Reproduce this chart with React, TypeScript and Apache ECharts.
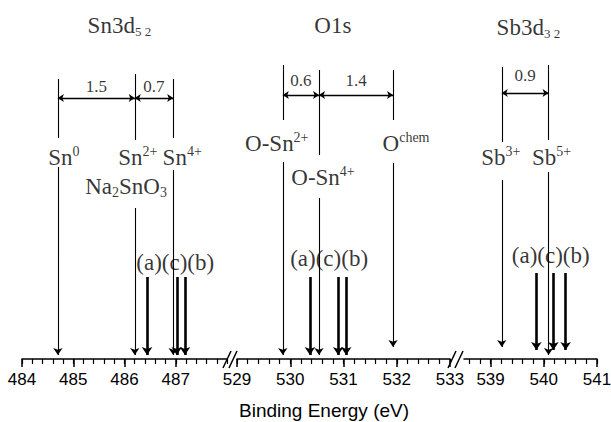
import React, { useEffect, useRef } from "react";
import * as echarts from "echarts";

const SERIF = '"Liberation Serif", "Times New Roman", serif';
const SANS = '"Liberation Sans", Arial, sans-serif';
const INK = "#000000";

// ---- tick labels of the three axis segments (eV) ----
const snTicks = [484, 485, 486, 487];
const oTicks = [529, 530, 531, 532, 533];
const sbTicks = [539, 540, 541];

// ---- reference binding energies (eV) ----
const snRefLabels = ["{m|Sn}{sup|0}", "{m|Sn}{sup|2+}", "{m|Sn}{sup|4+}"];
const snRefEnergy = [484.7, 486.2, 486.95];
const oRefLabels = ["{m|O-Sn}{sup|2+}", "{m|O-Sn}{sup|4+}", "{m|O}{sup|chem}"];
const oRefEnergy = [529.86, 530.54, 531.93];
const sbRefLabels = ["{m|Sb}{sup|3+}", "{m|Sb}{sup|5+}"];
const sbRefEnergy = [539.21, 540.09];

// ---- samples (a), (c), (b) ----
const sampleText = "(a)(c)(b)";
const snSampleEnergy = [486.44, 487.02, 487.18];
const oSampleEnergy = [530.37, 530.9, 531.05];
const sbSampleEnergy = [539.86, 540.18, 540.41];

// ---- chemical shifts between neighbouring references ----
const snShifts = ["1.5", "0.7"];
const oShifts = ["0.6", "1.4"];
const sbShifts = ["0.9"];

// ---- titles ----
const snTitle = "{t|Sn3d}{tsub|5 2}";
const oTitle = "{t|O1s}";
const sbTitle = "{t|Sb3d}{tsub|3 2}";

// layout (heights above axis in the hidden y scale, px-like)
const AXIS_Y = 359;
const segments = [
  {
    min: 484, max: 488, left: 22, width: 205, ticks: snTicks,
    title: snTitle, titleE: 485.9, titleH: 334,
    refE: snRefEnergy, refLabels: snRefLabels,
    refDx: [6, 3, 9], refLabelH: [202, 202, 202],
    refUpper: [[280, 221], [285, 219], [280, 221]],
    refLower: [[192, 4], [151, 4], [189, 4]],
    extra: [{ e: 486.03, h: 173, text: "{m|Na}{sub|2}{m|SnO}{sub|3}", dx: 0 }],
    dimH: 261, dimLabelH: 273, shifts: snShifts,
    sampleE: snSampleEnergy, sampleTop: 82, sampleBottom: 4,
    sampleLabelE: 486.99, sampleLabelH: 97,
  },
  {
    min: 529, max: 533, left: 237, width: 213, ticks: oTicks,
    title: oTitle, titleE: 530.8, titleH: 334,
    refE: oRefEnergy, refLabels: oRefLabels,
    refDx: [-6, 4, 13], refLabelH: [216, 182, 216],
    refUpper: [[294, 239], [289, 204], [289, 239]],
    refLower: [[197, 4], [161, 4], [196, 12]],
    extra: [],
    dimH: 264, dimLabelH: 279, shifts: oShifts,
    sampleE: oSampleEnergy, sampleTop: 82, sampleBottom: 4,
    sampleLabelE: 530.73, sampleLabelH: 101,
  },
  {
    min: 538.5, max: 541, left: 464, width: 133, ticks: sbTicks,
    title: sbTitle, titleE: 539.71, titleH: 332,
    refE: sbRefEnergy, refLabels: sbRefLabels,
    refDx: [-1, 3], refLabelH: [202, 202],
    refUpper: [[292, 217], [294, 219]],
    refLower: [[179, 12], [187, 4]],
    extra: [],
    dimH: 266, dimLabelH: 284, shifts: sbShifts,
    sampleE: sbSampleEnergy, sampleTop: 86, sampleBottom: 9,
    sampleLabelE: 540.13, sampleLabelH: 104,
  },
];

const rich = {
  m: { fontSize: 23, fontFamily: SERIF, color: INK, lineHeight: 26 },
  sup: { fontSize: 14, fontFamily: SERIF, color: INK, lineHeight: 14, verticalAlign: "top" },
  sub: { fontSize: 14, fontFamily: SERIF, color: INK, lineHeight: 14, verticalAlign: "bottom" },
  t: { fontSize: 23, fontFamily: SERIF, color: INK, lineHeight: 26 },
  tsub: { fontSize: 13, fontFamily: SERIF, color: INK, lineHeight: 13, verticalAlign: "bottom" },
  d: { fontSize: 17, fontFamily: SERIF, color: INK },
  s: { fontSize: 23, fontFamily: SERIF, color: INK },
};

function minorTicks(min: number, max: number) {
  const out: number[] = [];
  const start = Math.ceil(min * 5 - 1e-6);
  const end = Math.floor(max * 5 + 1e-6);
  for (let k = start; k <= end; k++) out.push(Math.round(k * 2) / 10);
  return out;
}

function buildOption() {
  const grid: any[] = [];
  const xAxis: any[] = [];
  const yAxis: any[] = [];
  const series: any[] = [];

  segments.forEach((seg, i) => {
    grid.push({ left: seg.left, top: 0, width: seg.width, height: AXIS_Y, outerBoundsMode: "none", containLabel: false });
    xAxis.push({
      gridIndex: i, type: "value", min: seg.min, max: seg.max, position: "bottom",
      axisLine: { show: true, lineStyle: { color: INK, width: 1.5 } },
      axisTick: { show: true, length: 8, customValues: seg.ticks, lineStyle: { color: INK, width: 1.5 } },
      axisLabel: { show: true, customValues: seg.ticks, fontSize: 17, fontFamily: SANS, color: INK, margin: 12 },
      splitLine: { show: false },
    });
    xAxis.push({
      gridIndex: i, type: "value", min: seg.min, max: seg.max, position: "bottom", offset: 0,
      axisLine: { show: false },
      axisTick: { show: true, length: 5, customValues: minorTicks(seg.min, seg.max), lineStyle: { color: INK, width: 1.2 } },
      axisLabel: { show: false },
      splitLine: { show: false },
    });
    yAxis.push({ gridIndex: i, type: "value", min: 0, max: AXIS_Y, show: false });

    const common = { coordinateSystem: "cartesian2d", xAxisIndex: i * 2, yAxisIndex: i, silent: true };

    series.push({
      ...common, type: "lines", symbol: ["none", "none"],
      lineStyle: { color: INK, width: 1.1, opacity: 1 },
      data: seg.refE.map((e, k) => ({ coords: [[e, seg.refUpper[k][0]], [e, seg.refUpper[k][1]]] })),
    });
    series.push({
      ...common, type: "lines", symbol: ["none", "arrow"], symbolSize: 7,
      lineStyle: { color: INK, width: 1.1, opacity: 1 },
      data: seg.refE.map((e, k) => ({ coords: [[e, seg.refLower[k][0]], [e, seg.refLower[k][1]]] })),
    });
    series.push({
      ...common, type: "lines", symbol: ["none", "arrow"], symbolSize: 8,
      lineStyle: { color: INK, width: 2.6, opacity: 1 },
      data: seg.sampleE.map((e) => ({ coords: [[e, seg.sampleTop], [e, seg.sampleBottom]] })),
    });
    series.push({
      ...common, type: "lines", symbol: ["arrow", "arrow"], symbolSize: 6,
      lineStyle: { color: INK, width: 1.3, opacity: 1 },
      data: seg.shifts.map((_, k) => ({ coords: [[seg.refE[k], seg.dimH], [seg.refE[k + 1], seg.dimH]] })),
    });

    const labels: any[] = [];
    seg.refE.forEach((e, k) => {
      labels.push({ value: [e, seg.refLabelH[k]], label: { formatter: seg.refLabels[k], offset: [seg.refDx[k], 0] } });
    });
    seg.extra.forEach((x) => {
      labels.push({ value: [x.e, x.h], label: { formatter: x.text, offset: [x.dx, 0] } });
    });
    seg.shifts.forEach((s, k) => {
      labels.push({ value: [(seg.refE[k] + seg.refE[k + 1]) / 2, seg.dimLabelH], label: { formatter: "{d|" + s + "}" } });
    });
    labels.push({ value: [seg.sampleLabelE, seg.sampleLabelH], label: { formatter: "{s|" + sampleText + "}" } });
    labels.push({ value: [seg.titleE, seg.titleH], label: { formatter: seg.title } });

    series.push({
      ...common, type: "scatter", symbolSize: 1,
      itemStyle: { color: "rgba(0,0,0,0)" },
      label: { show: true, position: "inside", align: "center", verticalAlign: "middle", rich },
      data: labels,
      z: 5,
    });
  });

  const slash = (x1: number, y1: number, x2: number, y2: number) => ({
    type: "line", shape: { x1, y1, x2, y2 }, style: { stroke: INK, lineWidth: 1.5 },
  });

  return {
    animation: false,
    backgroundColor: "#ffffff",
    grid, xAxis, yAxis, series,
    graphic: [
      { type: "rect", shape: { x: 226, y: 355, width: 11, height: 8 }, style: { fill: "#ffffff" } },
      slash(223, 368, 231, 351),
      slash(229, 368, 237, 351),
      { type: "rect", shape: { x: 449, y: 355, width: 15, height: 8 }, style: { fill: "#ffffff" } },
      slash(448, 368, 456, 351),
      slash(455, 368, 463, 351),
      {
        type: "text", x: 324, y: 410,
        style: { text: "Binding Energy (eV)", fontSize: 19, fontFamily: SANS, fill: INK, align: "center", verticalAlign: "middle" },
      },
    ],
  };
}

export default function App() {
  const ref = useRef<HTMLDivElement>(null);
  useEffect(() => {
    document.body.style.margin = "0";
    if (!ref.current) return;
    const chart = echarts.init(ref.current, undefined, { renderer: "svg" });
    chart.setOption(buildOption() as any);
    return () => chart.dispose();
  }, []);
  return <div ref={ref} style={{ width: 611, height: 422 }} />;
}
